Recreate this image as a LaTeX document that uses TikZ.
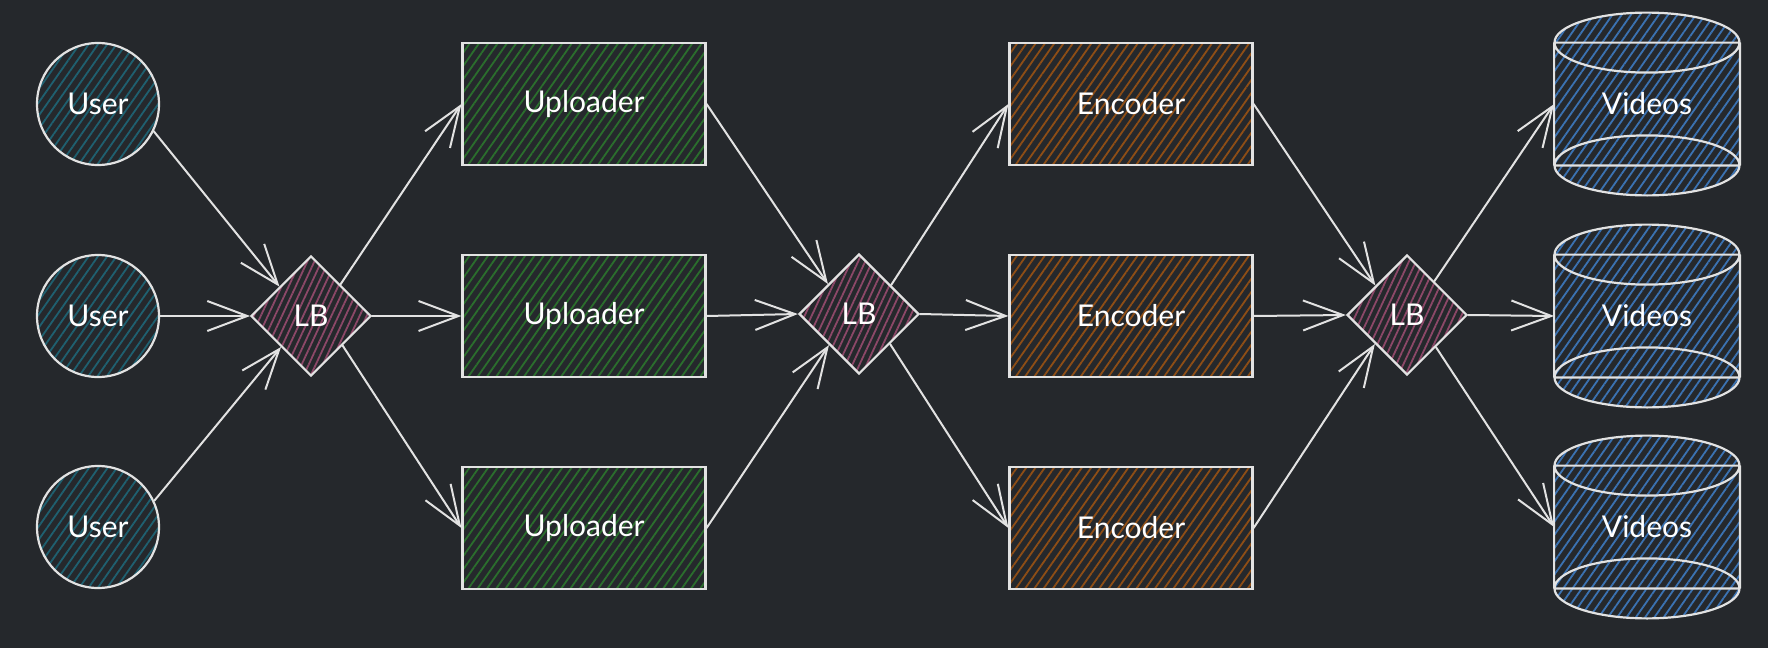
\documentclass[tikz,border=0pt]{standalone}
\usepackage{fontspec}
\setmainfont{Lato}
\usetikzlibrary{shapes.geometric,arrows.meta,patterns.meta}
\definecolor{bgc}{HTML}{25282C}
\definecolor{linec}{HTML}{E2E2E2}
\definecolor{tealh}{HTML}{1F6070}
\definecolor{greenh}{HTML}{2B6E2D}
\definecolor{brownh}{HTML}{8E4E16}
\definecolor{pinkh}{HTML}{8C4868}
\definecolor{blueh}{HTML}{3B72B2}
\tikzset{
  lbl/.style={text=white, font=\fontsize{15pt}{18pt}\selectfont},
  hatch/.style={pattern={Lines[angle=55,distance=3.8pt,line width=0.9pt]}, pattern color=#1},
  usernode/.style={lbl, circle, draw=linec, line width=1.1pt, minimum size=61pt, inner sep=0pt, hatch=tealh},
  upnode/.style={lbl, rectangle, draw=linec, line width=1.1pt, minimum width=121.5pt, minimum height=61pt, inner sep=0pt, hatch=greenh},
  encnode/.style={lbl, rectangle, draw=linec, line width=1.1pt, minimum width=121.5pt, minimum height=61pt, inner sep=0pt, hatch=brownh},
  lbnode/.style={lbl, diamond, aspect=1, draw=linec, line width=1.1pt, minimum width=60pt, minimum height=60pt, inner sep=0pt, pattern={Lines[angle=65,distance=3.2pt,line width=0.9pt]}, pattern color=pinkh},
  vidnode/.style={lbl, rectangle, minimum width=92.5pt, minimum height=61pt, inner sep=0pt},
  conn/.style={draw=linec, line width=1pt, line cap=round, -{Straight Barb[length=20pt,width=15pt,line width=1pt]}},
}
\newcommand{\cyl}[1]{%
  \path[hatch=blueh] (#1.north west) arc[start angle=180,end angle=0,x radius=46.25pt,y radius=15pt]
     -- (#1.south east) arc[start angle=0,end angle=-180,x radius=46.25pt,y radius=15pt] -- cycle;
  \draw[linec, line width=1.1pt] (#1.north) ellipse[x radius=46.25pt,y radius=15pt]
     (#1.south) ellipse[x radius=46.25pt,y radius=15pt]
     (#1.north west) -- (#1.north east)
     (#1.south west) -- (#1.south east)
     (#1.north west) -- (#1.south west)
     (#1.north east) -- (#1.south east);
}
\begin{document}
\begin{tikzpicture}[x=0.5pt,y=-0.5pt]
\fill[bgc] (0,0) rectangle (1768,648);
\useasboundingbox (0,0) rectangle (1768,648);

\node[usernode] (u1) at (98,104) {User};
\node[usernode] (u2) at (98,316) {User};
\node[usernode] (u3) at (98,527) {User};

\node[lbnode] (lb1) at (311,316) {LB};
\node[lbnode] (lb2) at (859,314) {LB};
\node[lbnode] (lb3) at (1407,315) {LB};

\node[upnode] (up1) at (584,104) {Uploader};
\node[upnode] (up2) at (584,316) {Uploader};
\node[upnode] (up3) at (584,528) {Uploader};

\node[encnode] (en1) at (1131,104) {Encoder};
\node[encnode] (en2) at (1131,316) {Encoder};
\node[encnode] (en3) at (1131,528) {Encoder};

\node[vidnode] (v1) at (1647,104) {};
\node[vidnode] (v2) at (1647,316) {};
\node[vidnode] (v3) at (1647,527) {};
\cyl{v1}\cyl{v2}\cyl{v3}
\node[lbl] at (v1.center) {Videos};
\node[lbl] at (v2.center) {Videos};
\node[lbl] at (v3.center) {Videos};

\draw[conn] (u1.-26) -- (lb1.137);
\draw[conn] (u2.east) -- (lb1.west);
\draw[conn] (u3.25) -- (lb1.226);

\draw[conn] (lb1.47) -- (up1.west);
\draw[conn] (lb1.east) -- (up2.west);
\draw[conn] (lb1.-43) -- (up3.west);

\draw[conn] (up1.east) -- (lb2.136);
\draw[conn] (up2.east) -- (lb2.west);
\draw[conn] (up3.east) -- (lb2.226);

\draw[conn] (lb2.42) -- (en1.west);
\draw[conn] (lb2.east) -- (en2.west);
\draw[conn] (lb2.-44) -- (en3.west);

\draw[conn] (en1.east) -- (lb3.137);
\draw[conn] (en2.east) -- (lb3.west);
\draw[conn] (en3.east) -- (lb3.222);

\draw[conn] (lb3.51) -- (v1.west);
\draw[conn] (lb3.east) -- (v2.west);
\draw[conn] (lb3.-48) -- (v3.west);
\end{tikzpicture}
\end{document}
